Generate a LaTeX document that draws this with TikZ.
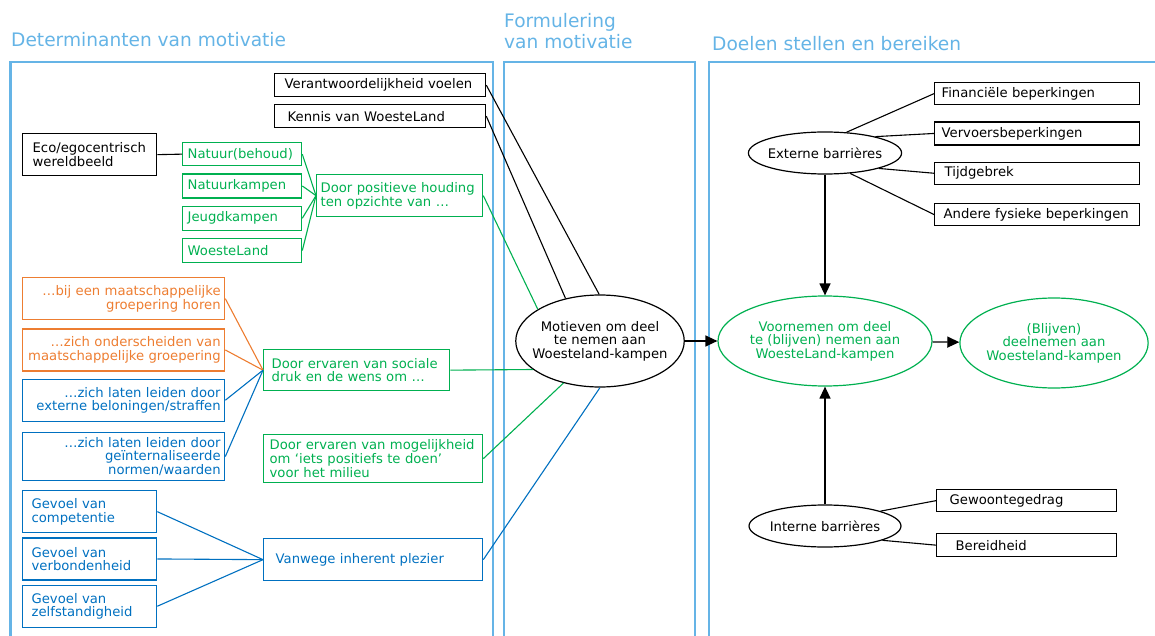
\documentclass[tikz,border=0pt]{standalone}
\usepackage{fontspec}
\setmainfont{DejaVu Sans}
\usepackage{tikz}
\usetikzlibrary{shapes, arrows.meta, positioning}
\usepackage{xcolor}
\definecolor{panelblue}{HTML}{65B4E6}
\definecolor{kgreen}{HTML}{00B050}
\definecolor{korange}{HTML}{ED7D31}
\definecolor{kblue}{HTML}{0070C0}

\begin{document}
\begin{tikzpicture}[x=1pt, y=-1pt,
    font=\fontsize{13.2}{13.6}\selectfont,
    box/.style={draw, rectangle, line width=1.3pt, inner ysep=1pt, align=left, anchor=north west},
    rbox/.style={box, align=right, inner xsep=4pt, text width=194pt},
    oval/.style={draw, ellipse, line width=1.2pt, inner sep=0pt, align=center},
    title/.style={text=panelblue, font=\fontsize{18.6}{21.5}\selectfont, inner sep=0pt, align=left, anchor=base west},
    panel/.style={draw=panelblue, line width=2.2pt},
    link/.style={line width=1.1pt},
    arr/.style={line width=1.3pt, -{Triangle[length=12pt, width=11pt]}}
]
\useasboundingbox (0,0) rectangle (1155,636);

% Panels and titles
\draw[panel] (10.5,640) |- (493,62) -- (493,640);
\draw[panel] (504,640) |- (695,62) -- (695,640);
\draw[panel] (709,640) |- (1160,62);
\node[title] (dettitle) at (11,47) {Determinanten van motivatie};
\node[title, anchor=north west] (formtitle) at (504,13) {Formulering\\van motivatie};
\node[title] (doeltitle) at (712,51) {Doelen stellen en bereiken};

% Determinanten
\node[box,
    inner xsep=10pt, text width=191pt,
    minimum height=23pt
] (verant) at (274,73) {Verantwoordelijkheid voelen};
\node[box,
    inner xsep=13pt, text width=185pt,
    minimum height=23pt
] (kennis) at (274,104) {Kennis van WoesteLand};
\node[box,
    inner xsep=10pt, text width=114pt,
    minimum height=42pt
] (eco) at (22,133) {Eco/egocentrisch\\wereldbeeld};

\node[box, draw=kgreen, text=kgreen,
    inner xsep=5pt, text width=109pt,
    minimum height=23pt
] (natuur) at (182,142) {Natuur(behoud)};
\node[box, draw=kgreen, text=kgreen,
    inner xsep=5pt, text width=109pt,
    minimum height=24pt,
    below=7pt of natuur
] (natkamp) {Natuurkampen};
\node[box, draw=kgreen, text=kgreen,
    inner xsep=5pt, text width=109pt,
    minimum height=24pt,
    below=7pt of natkamp
] (jeugd) {Jeugdkampen};
\node[box, draw=kgreen, text=kgreen,
    inner xsep=5pt, text width=109pt,
    minimum height=24pt,
    below=7pt of jeugd
] (woeste) {WoesteLand};
\node[box, draw=kgreen, text=kgreen,
    inner xsep=4pt, text width=158pt,
    minimum height=42pt
] (houding) at (316,174) {Door positieve houding\\ten opzichte van …};

\node[rbox, draw=korange, text=korange,
    minimum height=42pt
] (horen) at (22,277) {…bij een maatschappelijke\\groepering horen};
\node[rbox, draw=korange, text=korange,
    minimum height=42pt,
    below=8pt of horen
] (onders) {…zich onderscheiden van\\maatschappelijke groepering};
\node[rbox, draw=kblue, text=kblue,
    minimum height=42pt,
    below=7pt of onders
] (extern) {…zich laten leiden door\\externe beloningen/straffen};
\node[rbox, draw=kblue, text=kblue,
    minimum height=48pt,
    below=10pt of extern
] (intern) {…zich laten leiden door\\geïnternaliseerde\hspace*{4pt}\\normen/waarden};
\node[box, draw=kgreen, text=kgreen,
    inner xsep=8pt, text width=170pt,
    minimum height=41pt
] (sociaal) at (263,349) {Door ervaren van sociale\\druk en de wens om …};
\node[box, draw=kgreen, text=kgreen,
    inner xsep=6pt, text width=207pt,
    minimum height=48pt
] (milieu) at (263,434) {Door ervaren van mogelijkheid\\om ‘iets positiefs te doen’\\voor het milieu};

\node[box, draw=kblue, text=kblue,
    inner xsep=9pt, text width=116pt,
    minimum height=42pt
] (compet) at (22,490) {Gevoel van\\competentie};
\node[box, draw=kblue, text=kblue,
    inner xsep=9pt, text width=116pt,
    minimum height=42pt,
    below=4pt of compet
] (verbond) {Gevoel van\\verbondenheid};
\node[box, draw=kblue, text=kblue,
    inner xsep=9pt, text width=116pt,
    minimum height=42pt,
    below=4pt of verbond
] (zelfst) {Gevoel van\\zelfstandigheid};
\node[box, draw=kblue, text=kblue,
    inner xsep=12pt, text width=195pt,
    minimum height=42pt
] (plezier) at (263,538) {Vanwege inherent plezier};

% Formulering
\node[oval,
    inner xsep=-8pt,
    minimum width=167pt,
    minimum height=92pt
] (motieven) at (600,341) {Motieven om deel\\te nemen aan\\Woesteland-kampen};

% Doelen
\node[oval, draw=kgreen, text=kgreen,
    minimum width=214pt,
    minimum height=90pt
] (voornemen) at (825,341) {Voornemen om deel\\te (blijven) nemen aan\\WoesteLand-kampen};
\node[oval, draw=kgreen, text=kgreen,
    inner xsep=-1pt,
    minimum width=188pt,
    minimum height=90pt
] (blijven) at (1054,343) {(Blijven)\\deelnemen aan\\Woesteland-kampen};
\node[oval,
    inner xsep=-3pt,
    minimum width=151pt,
    minimum height=42pt
] (extbar) at (825,153) {Externe barrières};
\node[oval,
    inner xsep=-1.5pt,
    minimum width=151pt,
    minimum height=42pt
] (intbar) at (825,526) {Interne barrières};

\node[box,
    inner xsep=7pt, text width=191pt,
    minimum height=22pt
] (finan) at (934,82) {Financiële beperkingen};
\node[box,
    inner xsep=7pt, text width=191pt,
    minimum height=23pt,
    below=16pt of finan
] (vervoer) {Vervoersbeperkingen};
\node[box,
    inner xsep=10pt, text width=185pt,
    minimum height=22pt,
    below=16pt of vervoer
] (tijd) {Tijdgebrek};
\node[box,
    inner xsep=9pt, text width=187pt,
    minimum height=22pt,
    below=18pt of tijd
] (andere) {Andere fysieke beperkingen};
\node[box,
    inner xsep=13pt, text width=154pt,
    minimum height=22pt
] (gewoonte) at (936,489) {Gewoontegedrag};
\node[box,
    inner xsep=19pt, text width=142pt,
    minimum height=23pt
] (bereid) at (936,533) {Bereidheid};

% Lines
\draw[link] (eco.east) -- (natuur.west);
\draw[link, kgreen] (natuur.east) -- (houding.west);
\draw[link, kgreen] (natkamp.east) -- (houding.west);
\draw[link, kgreen] (jeugd.east) -- (houding.west);
\draw[link, kgreen] (woeste.east) -- (houding.west);
\draw[link, korange] (horen.east) -- (sociaal.west);
\draw[link, korange] (onders.east) -- (sociaal.west);
\draw[link, kblue] (extern.east) -- (sociaal.west);
\draw[link, kblue] (intern.east) -- (sociaal.west);
\draw[link, kblue] (compet.east) -- (plezier.west);
\draw[link, kblue] (verbond.east) -- (plezier.west);
\draw[link, kblue] (zelfst.east) -- (plezier.west);

\draw[link] (verant.east) -- (motieven.91);
\draw[link] (kennis.east) -- (motieven.129);
\draw[link, kgreen] (houding.east) -- (motieven.153);
\draw[link, kgreen] (sociaal.east) -- (motieven.203);
\draw[link, kgreen] (milieu.east) -- (motieven.229);
\draw[link, kblue] (plezier.east) -- (motieven.270);

\draw[link] (extbar.44) -- (finan.west);
\draw[link] (extbar.18) -- (vervoer.west);
\draw[link] (extbar.344) -- (tijd.west);
\draw[link] (extbar.321) -- (andere.west);
\draw[link] (intbar.15) -- (gewoonte.west);
\draw[link] (intbar.346) -- (bereid.west);

% Arrows
\draw[arr] (motieven) -- (voornemen);
\draw[arr] (voornemen) -- (blijven);
\draw[arr] (extbar) -- (voornemen);
\draw[arr] (intbar) -- (voornemen);
\end{tikzpicture}
\end{document}
